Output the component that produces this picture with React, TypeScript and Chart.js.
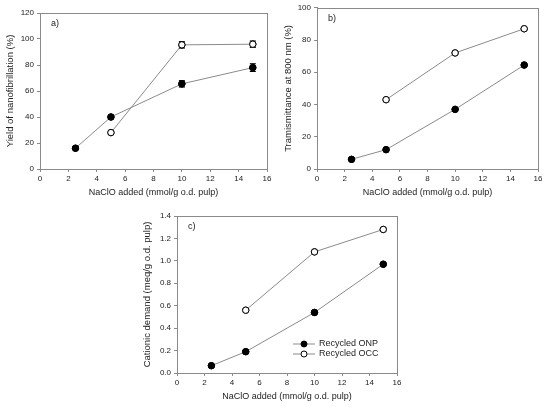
import React, { useEffect, useRef } from "react";
import { Chart, registerables } from "chart.js";

Chart.register(...registerables);

// ---------- data ----------
const xOnp = [2.5, 5, 10, 15];
const xOcc = [5, 10, 15];

const yieldOnp = [16, 40, 65.5, 78];
const yieldOnpErr = [0, 0, 2.5, 3];
const yieldOcc = [28, 95.5, 96];
const yieldOccErr = [0, 2.5, 2.5];

const transOnp = [6, 12, 37, 64.5];
const transOcc = [43, 72, 87];

const cationOnp = [0.065, 0.19, 0.54, 0.97];
const cationOcc = [0.56, 1.08, 1.28];

const seriesNames = ["Recycled ONP", "Recycled OCC"];
const xTitle = "NaClO added (mmol/g o.d. pulp)";

const FONT = "'Liberation Sans', Arial, sans-serif";
const TEXT = "#222";
const GRAY = "#8a8a8a";

type PanelCfg = {
  label: string;
  yTitle: string;
  yMax: number;
  yStep: number;
  yDecimals: number;
  onp: number[];
  occ: number[];
  onpErr?: number[];
  occErr?: number[];
  legend?: boolean;
  yWidth: number;
  xHeight: number;
  padding: { left: number; right: number; top: number; bottom: number };
};

const boxPlugin = {
  id: "boxAndExtras",
  afterDatasetsDraw(chart: any, _args: any, opts: any) {
    const { ctx, chartArea } = chart;
    const xs = chart.scales.x;
    const ys = chart.scales.y;
    ctx.save();
    // error bars
    chart.data.datasets.forEach((ds: any) => {
      const errs: number[] | undefined = ds.errors;
      if (!errs) return;
      ds.data.forEach((p: any, i: number) => {
        const e = errs[i];
        if (!e) return;
        const px = xs.getPixelForValue(p.x);
        const y1 = ys.getPixelForValue(p.y - e);
        const y2 = ys.getPixelForValue(p.y + e);
        ctx.strokeStyle = "#000";
        ctx.lineWidth = 1;
        ctx.beginPath();
        ctx.moveTo(px, y1);
        ctx.lineTo(px, y2);
        ctx.moveTo(px - 3, y1);
        ctx.lineTo(px + 3, y1);
        ctx.moveTo(px - 3, y2);
        ctx.lineTo(px + 3, y2);
        ctx.stroke();
      });
    });
    // redraw points over error bars
    chart.data.datasets.forEach((_ds: any, i: number) => {
      const meta = chart.getDatasetMeta(i);
      meta.data.forEach((el: any) => el.draw(ctx, chartArea));
    });
    // box
    ctx.strokeStyle = GRAY;
    ctx.lineWidth = 1;
    ctx.strokeRect(
      Math.round(chartArea.left) + 0.5,
      Math.round(chartArea.top) + 0.5,
      Math.round(chartArea.right - chartArea.left),
      Math.round(chartArea.bottom - chartArea.top)
    );
    // panel label
    ctx.fillStyle = TEXT;
    ctx.font = `9px ${FONT}`;
    ctx.textBaseline = "middle";
    ctx.textAlign = "left";
    ctx.fillText(opts.label, chartArea.left + 11, chartArea.top + 11);
    // legend
    if (opts.legend) {
      const lx = chartArea.left + 116;
      const ly = chartArea.top + 128;
      chart.data.datasets.forEach((ds: any, i: number) => {
        const y = ly + i * 10;
        ctx.strokeStyle = GRAY;
        ctx.beginPath();
        ctx.moveTo(lx, y);
        ctx.lineTo(lx + 22, y);
        ctx.stroke();
        ctx.beginPath();
        ctx.arc(lx + 11, y, 3, 0, Math.PI * 2);
        ctx.fillStyle = ds.pointBackgroundColor;
        ctx.fill();
        ctx.strokeStyle = "#000";
        ctx.stroke();
        ctx.fillStyle = TEXT;
        ctx.font = `9px ${FONT}`;
        ctx.fillText(ds.label, lx + 26, y);
      });
    }
    ctx.restore();
  },
};

function Panel({ cfg, style }: { cfg: PanelCfg; style: React.CSSProperties }) {
  const ref = useRef<HTMLCanvasElement>(null);
  useEffect(() => {
    if (!ref.current) return;
    const mk = (xsArr: number[], ysArr: number[]) =>
      xsArr.map((x, i) => ({ x, y: ysArr[i] }));
    const chart = new Chart(ref.current, {
      type: "line",
      data: {
        datasets: [
          {
            label: seriesNames[0],
            data: mk(xOnp, cfg.onp),
            borderColor: GRAY,
            borderWidth: 1,
            pointBackgroundColor: "#000",
            pointBorderColor: "#000",
            pointBorderWidth: 1,
            pointRadius: 3.2,
            errors: cfg.onpErr,
          } as any,
          {
            label: seriesNames[1],
            data: mk(xOcc, cfg.occ),
            borderColor: GRAY,
            borderWidth: 1,
            pointBackgroundColor: "#fff",
            pointBorderColor: "#000",
            pointBorderWidth: 1,
            pointRadius: 3.2,
            errors: cfg.occErr,
          } as any,
        ],
      },
      options: {
        animation: false,
        responsive: false,
        devicePixelRatio: 1,
        layout: { padding: cfg.padding },
        plugins: {
          legend: { display: false },
          tooltip: { enabled: false },
          // @ts-ignore
          boxAndExtras: { label: cfg.label, legend: !!cfg.legend },
        },
        scales: {
          x: {
            type: "linear",
            min: 0,
            max: 16,
            ticks: {
              stepSize: 2,
              font: { family: FONT, size: 8 },
              color: TEXT,
              padding: 2,
            },
            grid: {
              display: true,
              drawOnChartArea: false,
              drawTicks: true,
              tickLength: 3,
              color: GRAY,
            },
            border: { color: GRAY },
            title: {
              display: true,
              text: xTitle,
              font: { family: FONT, size: 9 },
              color: TEXT,
              padding: { top: 4, bottom: 4 },
            },
            afterFit(scale: any) {
              scale.height = cfg.xHeight;
            },
          },
          y: {
            min: 0,
            max: cfg.yMax,
            ticks: {
              stepSize: cfg.yStep,
              font: { family: FONT, size: 8 },
              color: TEXT,
              padding: 3,
              callback: (v: any) => Number(v).toFixed(cfg.yDecimals),
            },
            grid: {
              display: true,
              drawOnChartArea: false,
              drawTicks: true,
              tickLength: 3,
              color: GRAY,
            },
            border: { color: GRAY },
            title: {
              display: true,
              text: cfg.yTitle,
              font: { family: FONT, size: 9.5 },
              color: TEXT,
              padding: { top: 4, bottom: 4 },
            },
            afterFit(scale: any) {
              scale.width = cfg.yWidth;
            },
          },
        },
      },
      plugins: [boxPlugin],
    });
    return () => chart.destroy();
  }, [cfg]);
  return (
    <canvas
      ref={ref}
      width={style.width as number}
      height={style.height as number}
      style={{ position: "absolute", ...style }}
    />
  );
}

const panelA: PanelCfg = {
  label: "a)",
  yTitle: "Yield of nanofibrillation (%)",
  yMax: 120,
  yStep: 20,
  yDecimals: 0,
  onp: yieldOnp,
  occ: yieldOcc,
  onpErr: yieldOnpErr,
  occErr: yieldOccErr,
  yWidth: 39,
  xHeight: 33,
  padding: { left: 1, right: 8, top: 13, bottom: 3 },
};

const panelB: PanelCfg = {
  label: "b)",
  yTitle: "Tramismittance at 800 nm (%)",
  yMax: 100,
  yStep: 20,
  yDecimals: 0,
  onp: transOnp,
  occ: transOcc,
  yWidth: 38,
  xHeight: 33,
  padding: { left: 4, right: 12, top: 7, bottom: 3 },
};

const panelC: PanelCfg = {
  label: "c)",
  yTitle: "Cationic demand (meq/g o.d. pulp)",
  yMax: 1.4,
  yStep: 0.2,
  yDecimals: 1,
  onp: cationOnp,
  occ: cationOcc,
  legend: true,
  yWidth: 39,
  xHeight: 33,
  padding: { left: 3, right: 13, top: 11, bottom: 1 },
};

export default function App() {
  return (
    <div
      style={{
        position: "fixed",
        left: 0,
        top: 0,
        width: 550,
        height: 407,
        background: "#fff",
        overflow: "hidden",
      }}
    >
      <Panel cfg={panelA} style={{ left: 0, top: 0, width: 275, height: 205 }} />
      <Panel cfg={panelB} style={{ left: 275, top: 0, width: 275, height: 205 }} />
      <Panel cfg={panelC} style={{ left: 135, top: 205, width: 275, height: 202 }} />
    </div>
  );
}
